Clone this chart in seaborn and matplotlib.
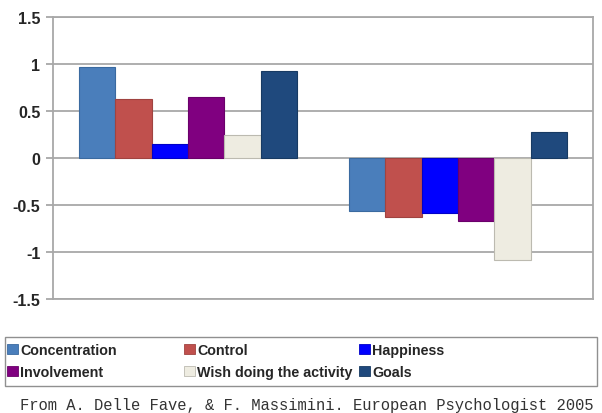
import matplotlib
matplotlib.use("Agg")
import matplotlib.pyplot as plt
import seaborn as sns
import pandas as pd

# Mean z-scores of experience variables in two conditions
conditions = ["Flow", "Apathy"]
variables = ["Concentration", "Control", "Happiness", "Involvement",
             "Wish doing the activity", "Goals"]
flow_values = [0.97, 0.63, 0.15, 0.65, 0.24, 0.93]
apathy_values = [-0.56, -0.63, -0.59, -0.67, -1.09, 0.28]
colors = ["#4a7ebb", "#c0504d", "#0000ff", "#800080", "#eeece1", "#1f497d"]
edge_colors = ["#3a6aa0", "#a04340", "#0000c8", "#6a006a", "#bcbab0", "#173a63"]
yticks = [-1.5, -1, -0.5, 0, 0.5, 1, 1.5]
ytick_labels = ["-1.5", "-1", "-0.5", "0", "0.5", "1", "1.5"]
caption = "From A. Delle Fave, & F. Massimini. European Psychologist 2005"

df = pd.DataFrame({
    "condition": [c for c in conditions for _ in variables],
    "variable": variables * len(conditions),
    "value": flow_values + apathy_values,
})

sns.set_theme(style="white")
plt.rcParams["font.family"] = ["Liberation Sans", "DejaVu Sans"]

W, H = 602, 414
fig = plt.figure(figsize=(W / 100, H / 100), dpi=100)
ax = fig.add_axes([53 / W, 1 - 300 / H, 540 / W, 282 / H])

sns.barplot(data=df, x="condition", y="value", hue="variable",
            hue_order=variables, order=conditions,
            palette=colors, saturation=1, width=0.81, ax=ax, legend=False,
            linewidth=0.8, zorder=3)

# per-series edge colours
for container, ec in zip(ax.containers, edge_colors):
    for bar in container:
        bar.set_edgecolor(ec)

ax.set_ylim(-1.5, 1.5)
ax.set_xlim(-0.5, 1.5)
ax.set_yticks(yticks)
ax.set_yticklabels(ytick_labels, fontsize=11.5, fontweight="bold")
ax.set_xticks([])
ax.set_xlabel("")
ax.set_ylabel("")
ax.yaxis.grid(True, color="#a8a8a8", linewidth=1.3, zorder=0)
ax.set_axisbelow(True)
ax.tick_params(axis="y", which="both", left=True, length=5, width=1.2,
               color="#a0a0a0", pad=4)
for side in ["left", "right", "top", "bottom"]:
    ax.spines[side].set_visible(True)
    ax.spines[side].set_color("#a8a8a8")
    ax.spines[side].set_linewidth(1.3)

# legend frame spanning the figure width
fig.patches.append(plt.Rectangle((5 / W, 1 - 387 / H), 592 / W, 49 / H,
                                 transform=fig.transFigure, fill=False,
                                 edgecolor="#909090", linewidth=1.0))

# legend: three fixed-width columns, two rows each
handles = [plt.Rectangle((0, 0), 1, 1, facecolor=c, edgecolor=e, linewidth=0.6)
           for c, e in zip(colors, edge_colors)]
column_x = [4, 181, 356]
for col, x0 in enumerate(column_x):
    idx = [col, col + 3]
    leg = fig.legend([handles[i] for i in idx], [variables[i] for i in idx],
                     ncol=1, loc="upper left",
                     bbox_to_anchor=(x0 / W, 1 - 341 / H),
                     frameon=False, prop={"weight": "bold", "size": 10.3},
                     handlelength=0.75, handleheight=0.75, handletextpad=0.2,
                     labelspacing=0.58, borderpad=0.2, borderaxespad=0)

fig.text(306.5 / W, 1 - 410 / H, caption, ha="center", va="baseline",
         fontsize=11.2, family=["Liberation Mono", "DejaVu Sans Mono"],
         color="#333333")

fig.savefig("out.png", dpi=100)
